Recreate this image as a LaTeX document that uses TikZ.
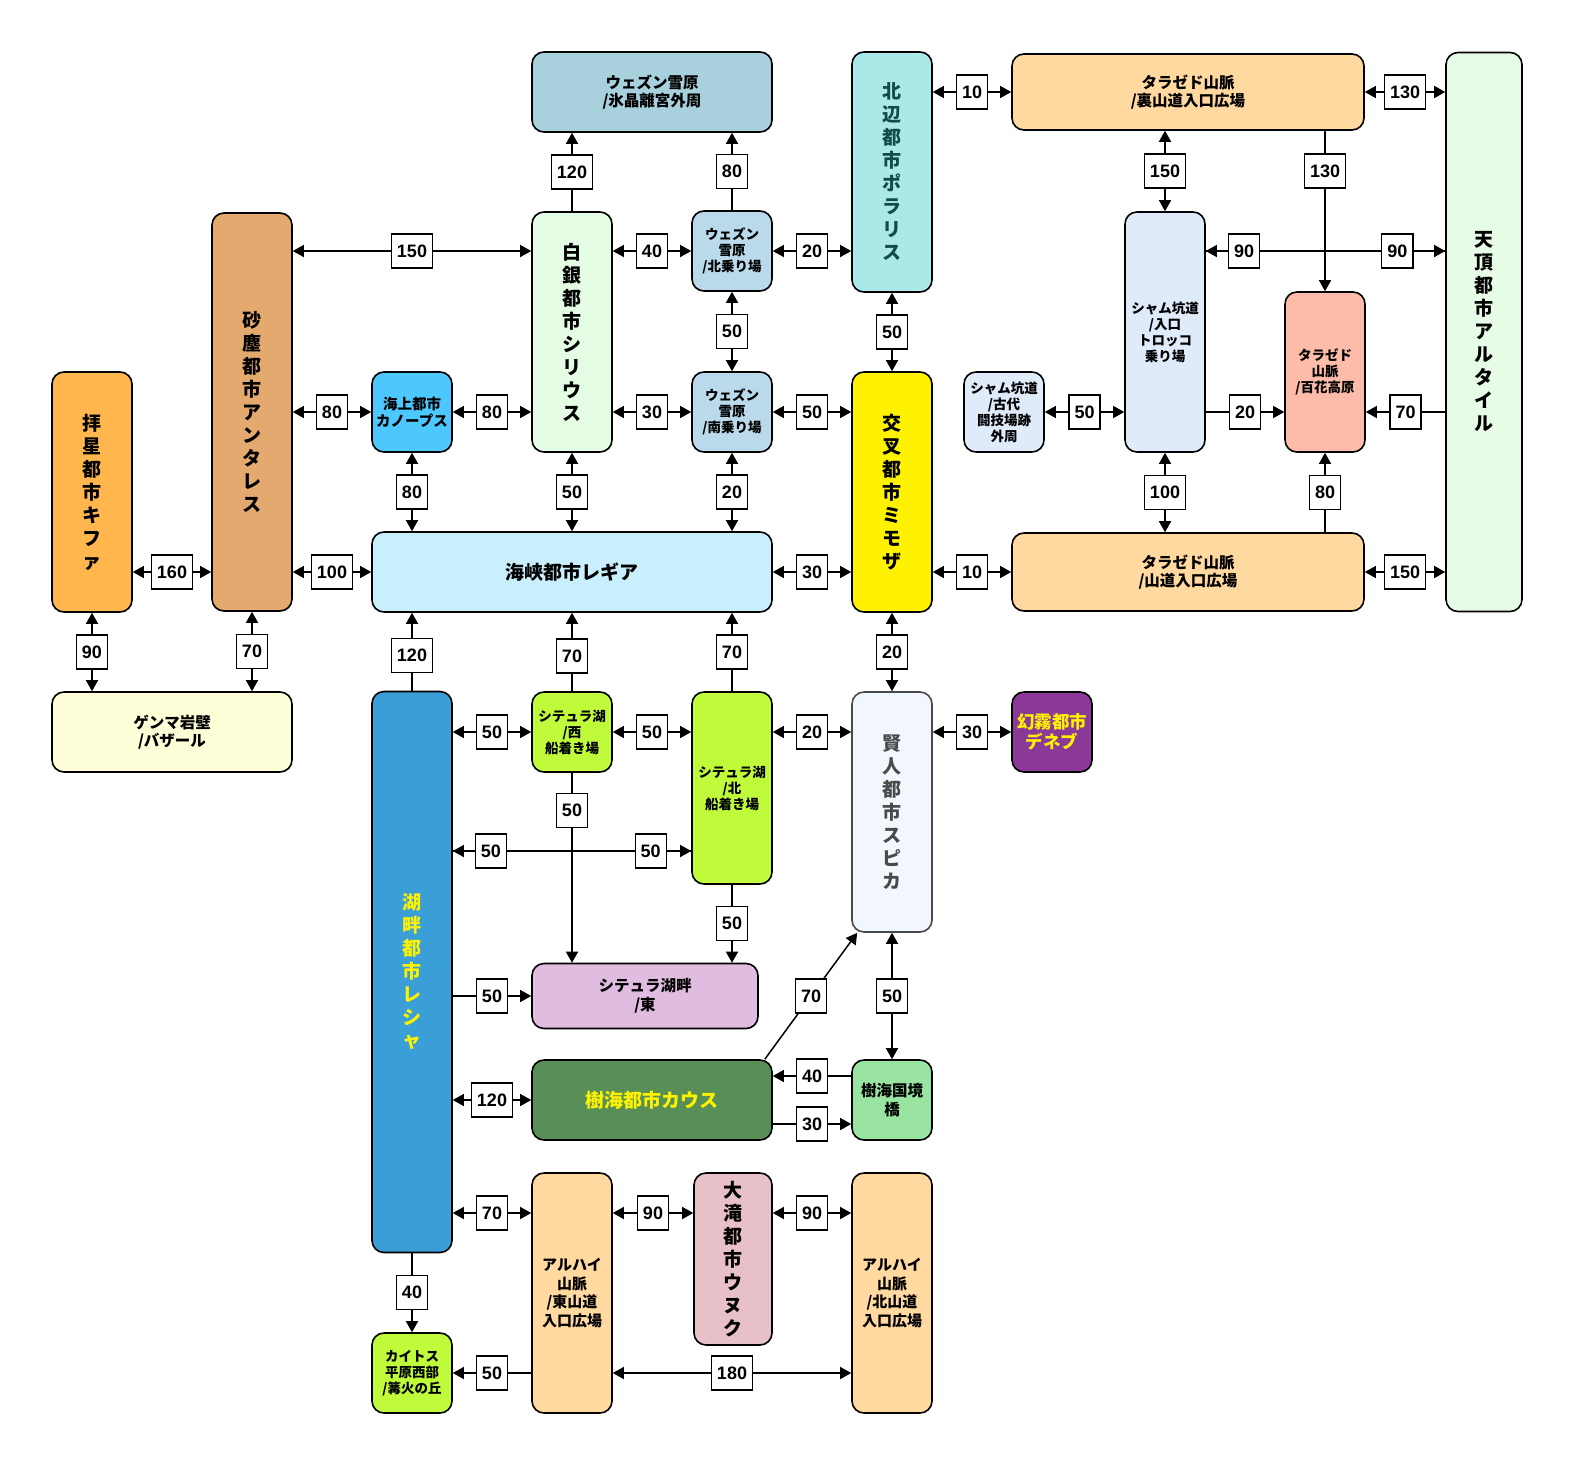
\documentclass[tikz,border=0pt]{standalone}
\usepackage{fontspec}
\setmainfont{Noto Sans CJK JP}
\newfontfamily\numfont{Liberation Sans}
\usepackage{xcolor}
\usetikzlibrary{arrows.meta}

\definecolor{kifaC}{HTML}{FFB74D}
\definecolor{antaresC}{HTML}{E4A96E}
\definecolor{genmaC}{HTML}{FDFDD8}
\definecolor{canopusC}{HTML}{4DC8FF}
\definecolor{siriusC}{HTML}{E3FCE3}
\definecolor{wezenTopC}{HTML}{A8D0DD}
\definecolor{wezenC}{HTML}{BAD9EB}
\definecolor{polarisC}{HTML}{ABE8E8}
\definecolor{polarisT}{HTML}{134A4A}
\definecolor{shyamC}{HTML}{E0EBFA}
\definecolor{tarazedC}{HTML}{FFD9A0}
\definecolor{hanaC}{HTML}{FDBBA9}
\definecolor{altairC}{HTML}{E6FCE6}
\definecolor{regiaC}{HTML}{C9EEFC}
\definecolor{leshaC}{HTML}{3A9FD6}
\definecolor{seturaC}{HTML}{BFFB3A}
\definecolor{spicaC}{HTML}{F2F6FD}
\definecolor{spicaT}{HTML}{4A4A4A}
\definecolor{denebC}{HTML}{8B3996}
\definecolor{seturaEC}{HTML}{E0BDE0}
\definecolor{kausC}{HTML}{578F57}
\definecolor{bridgeC}{HTML}{98E4A0}
\definecolor{unukC}{HTML}{E8C0C8}

\begin{document}
\begin{tikzpicture}[
    x=1pt, y=-1pt,
    box/.style     ={draw=black, line width=1.6pt, rounded corners=12pt, align=center, inner sep=0pt,
                     font=\bfseries\fontsize{13.5}{16}\selectfont},
    city/.style    ={box, font=\bfseries\fontsize{19}{23}\selectfont},
    mid/.style     ={box, font=\bfseries\fontsize{15.5}{18.5}\selectfont},
    sz/.style 2 args={minimum width=#1, minimum height=#2},
    num/.style     ={draw, fill=white, line width=1.3pt, inner xsep=5.5pt, inner ysep=0pt,
                     minimum height=34pt, font=\numfont\bfseries\fontsize{18}{18}\selectfont},
    arr/.style     ={line width=1.5pt, -{Triangle[length=11pt,width=12pt]}},
    dbl/.style     ={line width=1.5pt, {Triangle[length=11pt,width=12pt]}-{Triangle[length=11pt,width=12pt]}}
  ]
    \useasboundingbox (0,0) rectangle (1576,1468);

    % column centres (px)
    \def\cA{92}\def\cB{252}\def\cC{412}\def\cD{572}\def\cE{732}\def\cF{892}

    % --- West ---
    \node[city, fill=kifaC, sz={80}{240}] (kifa) at (\cA,492) {拝\\星\\都\\市\\キ\\フ\\ァ};
    \node[city, fill=antaresC, sz={80}{398}] (antares) at (\cB,412) {砂\\塵\\都\\市\\ア\\ン\\タ\\レ\\ス};
    \node[mid, fill=genmaC, sz={240}{80}] (genma) at (172,732) {ゲンマ岩壁\\/バザール};
    \node[box, fill=canopusC, sz={80}{80}, font=\bfseries\fontsize{14.5}{17.5}\selectfont] (canopus) at (\cC,412) {海上都市\\カノープス};

    % --- Snowfield ---
    \node[city, fill=siriusC, sz={80}{240}] (sirius) at (\cD,332) {白\\銀\\都\\市\\シ\\リ\\ウ\\ス};
    \node[mid, fill=wezenTopC, sz={240}{80}] (wezenTop) at (652,92) {ウェズン雪原\\/氷晶離宮外周};
    \node[box, fill=wezenC, sz={80}{80}] (wezenN) at (\cE,251) {ウェズン\\雪原\\/北乗り場};
    \node[box, fill=wezenC, sz={80}{80}] (wezenS) at (\cE,412) {ウェズン\\雪原\\/南乗り場};
    \node[city, fill=polarisC, text=polarisT, sz={80}{240}] (polaris) at (\cF,172) {北\\辺\\都\\市\\ポ\\ラ\\リ\\ス};
    \node[city, fill=yellow, sz={80}{240}] (mimosa) at (\cF,492) {交\\叉\\都\\市\\ミ\\モ\\ザ};

    % --- East ---
    \node[box, fill=shyamC, sz={80}{80}] (shyamOld) at (1004,412) {シャム坑道\\/古代\\闘技場跡\\外周};
    \node[box, fill=shyamC, sz={80}{240}] (shyamIn) at (1165,332) {シャム坑道\\/入口\\トロッコ\\乗り場};
    \node[mid, fill=tarazedC, sz={352}{76}] (tarazedUra) at (1188,92) {タラゼド山脈\\/裏山道入口広場};
    \node[box, fill=hanaC, sz={80}{160}] (hana) at (1325,372) {タラゼド\\山脈\\/百花高原};
    \node[city, fill=altairC, sz={76}{559}] (altair) at (1484,332) {天\\頂\\都\\市\\ア\\ル\\タ\\イ\\ル};
    \node[mid, fill=tarazedC, sz={352}{78}] (tarazedYama) at (1188,572) {タラゼド山脈\\/山道入口広場};

    % --- Strait and lake ---
    \node[city, fill=regiaC, sz={400}{80}] (regia) at (572,572) {海峡都市レギア};
    \node[city, fill=leshaC, text=yellow, sz={80}{561}] (lesha) at (\cC,972) {湖\\畔\\都\\市\\レ\\シ\\ャ};
    \node[box, fill=seturaC, sz={80}{80}] (seturaW) at (\cD,732) {シテュラ湖\\/西\\船着き場};
    \node[box, fill=seturaC, sz={80}{192}] (seturaN) at (\cE,788) {シテュラ湖\\/北\\船着き場};
    \node[city, fill=spicaC, draw=spicaT, text=spicaT, sz={80}{240}] (spica) at (\cF,812) {賢\\人\\都\\市\\ス\\ピ\\カ};
    \node[box, fill=denebC, text=yellow, sz={80}{80}, font=\bfseries\fontsize{17.5}{20}\selectfont] (deneb) at (1052,732) {幻霧都市\\デネブ};
    \node[mid, fill=seturaEC, sz={226}{65}] (seturaE) at (645,996) {シテュラ湖畔\\/東};
    \node[city, fill=kausC, text=yellow, sz={240}{80}] (kaus) at (652,1100) {樹海都市カウス};
    \node[mid, fill=bridgeC, sz={80}{80}] (bridge) at (\cF,1100) {樹海国境\\橋};

    % --- South ---
    \node[mid, fill=tarazedC, sz={80}{240}, font=\bfseries\fontsize{15}{18.5}\selectfont] (alhaiE) at (\cD,1293) {アルハイ\\山脈\\/東山道\\入口広場};
    \node[city, fill=unukC, sz={78}{172}] (unuk) at (733,1259) {大\\滝\\都\\市\\ウ\\ヌ\\ク};
    \node[mid, fill=tarazedC, sz={80}{240}, font=\bfseries\fontsize{15}{18.5}\selectfont] (alhaiN) at (\cF,1293) {アルハイ\\山脈\\/北山道\\入口広場};
    \node[box, fill=seturaC, sz={80}{80}] (kaitos) at (\cC,1373) {カイトス\\平原西部\\/篝火の丘};

    % --- Routes: north ---
    \draw[arr] (sirius.north) -- node[num]{120} (wezenTop.south -| sirius);
    \draw[arr] (wezenN.north) -- node[num]{80} (wezenTop.south -| wezenN);
    \draw[dbl] (antares.east |- wezenN) -- node[num]{150} (sirius.west |- wezenN);
    \draw[dbl] (sirius.east |- wezenN) -- node[num]{40} (wezenN.west);
    \draw[dbl] (wezenN.east) -- node[num]{20} (polaris.west |- wezenN);
    \draw[dbl] (wezenN.south) -- node[num]{50} (wezenS.north);
    \draw[dbl] (polaris.south) -- node[num]{50} (mimosa.north);
    \draw[dbl] (polaris.east |- tarazedUra) -- node[num]{10} (tarazedUra.west);
    \draw[dbl] (tarazedUra.east) -- node[num]{130} (altair.west |- tarazedUra);
    \draw[dbl] (tarazedUra.south -| shyamIn) -- node[num]{150} (shyamIn.north);
    \draw[arr] (tarazedUra.south -| hana) -- node[num, pos=0.25]{130} (hana.north);
    \draw[arr] (shyamIn.east |- wezenN) -- (altair.west |- wezenN);
    \draw[arr] (altair.west |- wezenN) -- node[num, pos=0.2]{90} node[num, pos=0.84]{90} (shyamIn.east |- wezenN);

    % --- Routes: middle row ---
    \draw[dbl] (antares.east |- canopus) -- node[num]{80} (canopus.west);
    \draw[dbl] (canopus.east) -- node[num]{80} (sirius.west |- canopus);
    \draw[dbl] (sirius.east |- wezenS) -- node[num]{30} (wezenS.west);
    \draw[dbl] (wezenS.east) -- node[num]{50} (mimosa.west |- wezenS);
    \draw[dbl] (shyamOld.east) -- node[num]{50} (shyamIn.west |- shyamOld);
    \draw[arr] (shyamIn.east |- shyamOld) -- node[num]{20} (hana.west |- shyamOld);
    \draw[arr] (altair.west |- shyamOld) -- node[num]{70} (hana.east |- shyamOld);
    \draw[dbl] (shyamIn.south) -- node[num]{100} (tarazedYama.north -| shyamIn);
    \draw[arr] (tarazedYama.north -| hana) -- node[num]{80} (hana.south);
    \draw[dbl] (canopus.south) -- node[num]{80} (regia.north -| canopus);
    \draw[dbl] (sirius.south) -- node[num]{50} (regia.north);
    \draw[dbl] (wezenS.south) -- node[num]{20} (regia.north -| wezenS);

    % --- Routes: strait row ---
    \draw[dbl] (kifa.east |- regia) -- node[num]{160} (antares.west |- regia);
    \draw[dbl] (antares.east |- regia) -- node[num]{100} (regia.west);
    \draw[dbl] (regia.east) -- node[num]{30} (mimosa.west |- regia);
    \draw[dbl] (mimosa.east |- regia) -- node[num]{10} (tarazedYama.west);
    \draw[dbl] (tarazedYama.east) -- node[num]{150} (altair.west |- tarazedYama);
    \draw[dbl] (kifa.south) -- node[num]{90} (genma.north -| kifa);
    \draw[dbl] (antares.south) -- node[num]{70} (genma.north -| antares);
    \draw[arr] (lesha.north) -- node[num, pos=0.45]{120} (regia.south -| lesha);
    \draw[arr] (seturaW.north) -- node[num, pos=0.45]{70} (regia.south);
    \draw[arr] (seturaN.north) -- node[num]{70} (regia.south -| seturaN);
    \draw[dbl] (mimosa.south) -- node[num]{20} (spica.north);

    % --- Routes: lake ---
    \draw[dbl] (lesha.east |- seturaW) -- node[num]{50} (seturaW.west);
    \draw[dbl] (seturaW.east) -- node[num]{50} (seturaN.west |- seturaW);
    \draw[dbl] (seturaN.east |- seturaW) -- node[num]{20} (spica.west |- seturaW);
    \draw[dbl] (spica.east |- deneb) -- node[num]{30} (deneb.west);
    \draw[arr] (seturaW.south) -- node[num, pos=0.2]{50} (seturaE.north -| seturaW);
    \draw[arr] (seturaN.south) -- node[num]{50} (seturaE.north -| seturaN);
    \draw[arr] (lesha.east |- 0,851) -- (seturaN.west |- 0,851);
    \draw[arr] (seturaN.west |- 0,851) -- node[num, pos=0.17]{50} node[num, pos=0.84]{50} (lesha.east |- 0,851);
    \draw[arr] (lesha.east |- seturaE) -- node[num]{50} (seturaE.west);

    % --- Routes: forest ---
    \draw[dbl] (lesha.east |- kaus) -- node[num]{120} (kaus.west);
    \draw[arr] ([xshift=-8pt]kaus.north east) -- node[num]{70} ([xshift=6pt]spica.south west);
    \draw[dbl] (spica.south) -- node[num]{50} (bridge.north);
    \draw[arr] (bridge.west |- 0,1076) -- node[num]{40} (kaus.east |- 0,1076);
    \draw[arr] (kaus.east |- 0,1124) -- node[num]{30} (bridge.west |- 0,1124);

    % --- Routes: south ---
    \draw[dbl] (lesha.east |- 0,1213) -- node[num]{70} (alhaiE.west |- 0,1213);
    \draw[dbl] (alhaiE.east |- 0,1213) -- node[num]{90} (unuk.west |- 0,1213);
    \draw[dbl] (unuk.east |- 0,1213) -- node[num]{90} (alhaiN.west |- 0,1213);
    \draw[arr] (lesha.south) -- node[num]{40} (kaitos.north);
    \draw[arr] (alhaiE.west |- kaitos) -- node[num]{50} (kaitos.east);
    \draw[dbl] (alhaiE.east |- kaitos) -- node[num]{180} (alhaiN.west |- kaitos);
  \end{tikzpicture}
\end{document}
